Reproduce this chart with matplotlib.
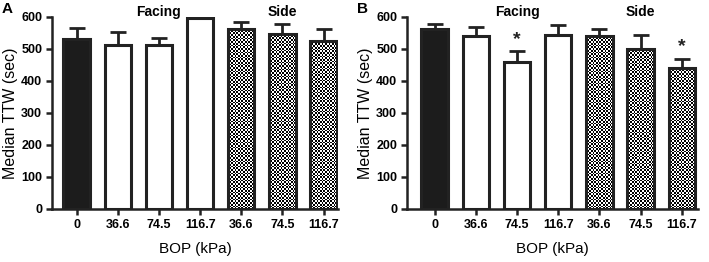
import matplotlib
matplotlib.use("Agg")
import matplotlib.pyplot as plt
import numpy as np

categories = ["0", "36.6", "74.5", "116.7", "36.6", "74.5", "116.7"]
a_median = [531, 512, 512, 596, 561, 546, 525]
a_err = [34, 40, 23, 0, 23, 33, 36]
b_median = [561, 539, 458, 545, 539, 499, 440]
b_err = [18, 31, 35, 31, 22, 45, 30]
b_sig = [False, False, True, False, False, False, True]
groups = ["control", "facing", "facing", "facing", "side", "side", "side"]

plt.rcParams["font.family"] = ["Liberation Sans", "DejaVu Sans"]

EDGE = "#222222"
BAR_W = 0.64


def checker_fill(ax, bar, v):
    # fine black/white checkerboard clipped to the bar, like the original print
    x0 = bar.get_x()
    w = bar.get_width()
    ncol = 16
    nrow = max(int(v / 600 * 112), 1)
    ii, jj = np.indices((nrow, ncol))
    pattern = ((ii + jj) % 2).astype(float)
    im = ax.imshow(pattern, cmap="gray", vmin=0, vmax=1.0, interpolation="nearest",
                   extent=(x0, x0 + w, 0, v), aspect="auto", zorder=2.5, origin="lower")
    im.set_clip_path(bar)


def draw_panel(ax, vals, errs, sig, xlim):
    x = np.arange(len(vals))
    for xi, v, g in zip(x, vals, groups):
        if g == "control":
            ax.bar(xi, v, width=BAR_W, color="#1c1c1c", edgecolor=EDGE, linewidth=2.2, zorder=3)
        elif g == "facing":
            ax.bar(xi, v, width=BAR_W, color="white", edgecolor=EDGE, linewidth=2.2, zorder=3)
        else:
            bars = ax.bar(xi, v, width=BAR_W, facecolor="none", edgecolor=EDGE,
                          linewidth=2.2, zorder=3)
            checker_fill(ax, bars[0], v)
    lower = np.zeros(len(vals))
    ax.errorbar(x, vals, yerr=[lower, errs], fmt="none", ecolor=EDGE,
                elinewidth=2, capsize=5.5, capthick=2, zorder=2)
    for xi, v, e, s in zip(x, vals, errs, sig):
        if s:
            ax.text(xi, v + e + 10, "*", ha="center", va="bottom",
                    fontsize=14, fontweight="bold", color=EDGE)

    ax.set_ylim(0, 600)
    ax.set_yticks(range(0, 601, 100))
    ax.set_xlim(*xlim)
    ax.set_xticks(x)
    ax.set_xticklabels(categories)
    for sp in ["top", "right"]:
        ax.spines[sp].set_visible(False)
    for sp in ["left", "bottom"]:
        ax.spines[sp].set_linewidth(1.8)
        ax.spines[sp].set_color(EDGE)
    ax.tick_params(direction="out", length=4, width=1.8, color=EDGE, labelsize=9, pad=3)
    for lab in ax.get_xticklabels() + ax.get_yticklabels():
        lab.set_fontweight("bold")
    ax.set_ylabel("Median TTW (sec)", fontsize=11.5, labelpad=2)
    ax.set_xlabel("BOP (kPa)", fontsize=11, labelpad=8)
    ax.text(2, 604, "Facing", ha="center", va="baseline", fontsize=10,
            fontweight="bold", clip_on=False)
    ax.text(5, 604, "Side", ha="center", va="baseline", fontsize=10,
            fontweight="bold", clip_on=False)


fig = plt.figure(figsize=(7.09, 2.62), dpi=100)
ax_a = fig.add_axes([0.0733, 0.2023, 0.4034, 0.733])
ax_b = fig.add_axes([0.574, 0.2023, 0.4104, 0.733])

draw_panel(ax_a, a_median, a_err, [False] * 7, (-0.6, 6.35))
draw_panel(ax_b, b_median, b_err, b_sig, (-0.67, 6.39))

fig.text(2 / 709, 1 - 2 / 262, "A", ha="left", va="top", fontsize=11, fontweight="bold")
fig.text(357 / 709, 1 - 2 / 262, "B", ha="left", va="top", fontsize=11, fontweight="bold")

plt.savefig("out.png", dpi=100)
